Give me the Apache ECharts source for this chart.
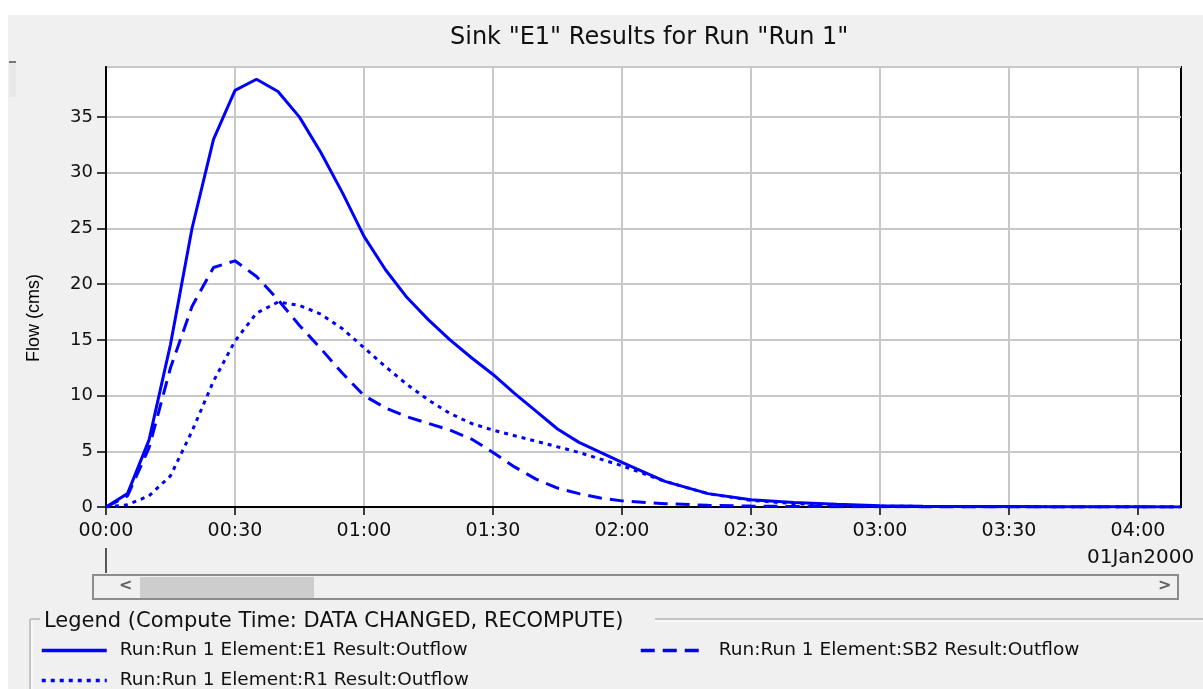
<!DOCTYPE html>
<html>
<head>
<meta charset="utf-8">
<script src="https://cdn.jsdelivr.net/npm/echarts@6/dist/echarts.min.js"></script>
<style>
html,body{margin:0;padding:0;background:#fff;}
#chart{width:1203px;height:689px;}
</style>
</head>
<body>
<div id="chart"></div>
<script>
// minutes from 00:00 on 01Jan2000
const timesMin = [0,5,10,15,20,25,30,35,40,45,50,55,60,65,70,75,80,85,90,95,100,105,110,115,120,130,140,150,160,170,180,190,200,210,220,230,240,250];
const e1Outflow = [0,1.2,6.0,14.6,25.0,33.0,37.4,38.4,37.3,35.0,31.8,28.2,24.3,21.3,18.8,16.8,15.0,13.4,11.9,10.2,8.6,7.0,5.8,4.9,4.0,2.3,1.2,0.65,0.4,0.25,0.12,0.07,0.05,0.04,0.03,0.02,0.02,0.01];
const sb2Outflow = [0,1.0,5.3,12.5,18.0,21.5,22.1,20.7,18.6,16.3,14.2,12.0,10.0,8.9,8.1,7.5,6.9,6.1,4.9,3.6,2.5,1.7,1.2,0.8,0.55,0.3,0.15,0.08,0.05,0.03,0.02,0.01,0.01,0.01,0.01,0.0,0.0,0.0];
const r1Outflow = [0,0.2,1.0,2.8,6.8,11.3,14.9,17.4,18.4,18.1,17.3,16.0,14.3,12.6,11.0,9.6,8.4,7.5,6.9,6.4,5.9,5.4,4.9,4.3,3.7,2.3,1.2,0.6,0.3,0.15,0.08,0.05,0.03,0.02,0.01,0.01,0.01,0.01];
const xTickMinutes = [0,30,60,90,120,150,180,210,240];
const seriesNames = ['Run:Run 1 Element:E1 Result:Outflow','Run:Run 1 Element:SB2 Result:Outflow','Run:Run 1 Element:R1 Result:Outflow'];
const titleText = 'Sink "E1" Results for Run "Run 1"';
const yAxisTitle = 'Flow (cms)';
const dateText = '01Jan2000';
const legendTitle = 'Legend (Compute Time: DATA CHANGED, RECOMPUTE)';

const FONT = 'DejaVu Sans';
const BLUE = '#0000ff';
const LW = 3;
function pairs(vals){ return timesMin.map((t,i)=>[t, vals[i]]); }
function hhmm(v){ const h=Math.floor(v/60), m=v%60; return String(h).padStart(2,'0')+':'+String(m).padStart(2,'0'); }

const chart = echarts.init(document.getElementById('chart'), null, {renderer:'canvas'});
const legendText = {fontFamily: FONT, fontSize: 18.5, color: '#111', padding: [0, 0, 0, 8]};
const legendCommon = {itemWidth: 65, itemHeight: 14, itemGap: 12, textStyle: legendText, orient: 'horizontal', padding: 0, itemStyle: {opacity: 0}, lineStyle: {width: 3.5}};
chart.setOption({
  backgroundColor: '#f0f0f0',
  animation: false,
  title: {
    text: titleText, left: 445, top: 21,
    textStyle: {fontFamily: FONT, fontSize: 24, fontWeight: 'normal', color: '#111'}
  },
  grid: {left: 106, top: 67, right: 22, bottom: 182, show: true, backgroundColor: '#fff', borderColor: '#000', borderWidth: 2, containLabel: false},
  xAxis: {
    type: 'value', min: 0, max: 250, interval: 30,
    axisLine: {show: true, lineStyle: {color: '#000', width: 2}},
    axisTick: {show: true, length: 8, customValues: xTickMinutes, lineStyle: {color: '#000', width: 1.5}},
    axisLabel: {customValues: xTickMinutes, formatter: v => hhmm(v), fontFamily: FONT, fontSize: 19, color: '#111', margin: 15},
    splitLine: {show: true, lineStyle: {color: '#c8c8c8', width: 2}}
  },
  yAxis: {
    type: 'value', min: 0, max: 39.5, interval: 5,
    axisLine: {show: true, lineStyle: {color: '#000', width: 2}},
    axisTick: {show: true, length: 9, lineStyle: {color: '#000', width: 1.5}},
    axisLabel: {showMaxLabel: false, fontFamily: FONT, fontSize: 18, color: '#111', margin: 13},
    splitLine: {show: true, lineStyle: {color: '#c8c8c8', width: 2}}
  },
  legend: [
    Object.assign({data: [seriesNames[0]], left: 40, top: 641}, legendCommon),
    Object.assign({data: [seriesNames[1]], left: 639, top: 641}, legendCommon),
    Object.assign({data: [seriesNames[2]], left: 40, top: 671}, legendCommon)
  ],
  series: [
    {name: seriesNames[0], type: 'line', data: pairs(e1Outflow), showSymbol: false, symbol: 'none', lineStyle: {color: BLUE, width: LW, type: 'solid'}, itemStyle: {color: BLUE}, z: 3},
    {name: seriesNames[1], type: 'line', data: pairs(sb2Outflow), showSymbol: false, symbol: 'none', lineStyle: {color: BLUE, width: LW, type: [14, 8]}, itemStyle: {color: BLUE}, z: 3},
    {name: seriesNames[2], type: 'line', data: pairs(r1Outflow), showSymbol: false, symbol: 'none', lineStyle: {color: BLUE, width: LW, type: [4, 5]}, itemStyle: {color: BLUE}, z: 3}
  ],
  graphic: [
    {type: 'rect', shape: {x: 0, y: 0, width: 1203, height: 15}, style: {fill: '#fff'}, silent: true},
    {type: 'rect', shape: {x: 0, y: 0, width: 8, height: 689}, style: {fill: '#fff'}, silent: true},
    {type: 'rect', shape: {x: 9, y: 63, width: 7, height: 34}, style: {fill: '#e8e8e8'}, silent: true},
    {type: 'line', shape: {x1: 9, y1: 62, x2: 16, y2: 62}, style: {stroke: '#777', lineWidth: 2}, silent: true},
    {type: 'text', x: 34, y: 318, rotation: Math.PI / 2, style: {text: yAxisTitle, font: '18px "Liberation Sans"', fill: '#000', align: 'center', verticalAlign: 'middle'}},
    {type: 'text', left: 1087, top: 548, style: {text: dateText, font: '20px "DejaVu Sans"', fill: '#111'}},
    {type: 'line', shape: {x1: 106, y1: 548, x2: 106, y2: 573}, style: {stroke: '#222', lineWidth: 1.5}, silent: true},
    {type: 'rect', shape: {x: 93, y: 575, width: 1085, height: 24}, style: {fill: '#f0f0f0', stroke: '#8c8c8c', lineWidth: 2}, silent: true},
    {type: 'rect', shape: {x: 140, y: 577, width: 174, height: 21}, style: {fill: '#cdcdcd'}, silent: true},
    {type: 'text', left: 119, top: 578, style: {text: '<', font: 'bold 16px "DejaVu Sans"', fill: '#606060'}},
    {type: 'text', left: 1158, top: 578, style: {text: '>', font: 'bold 16px "DejaVu Sans"', fill: '#606060'}},
    {type: 'line', shape: {x1: 30, y1: 619, x2: 40, y2: 619}, style: {stroke: '#c4c4c4', lineWidth: 2}, silent: true},
    {type: 'line', shape: {x1: 655, y1: 619, x2: 1203, y2: 619}, style: {stroke: '#c4c4c4', lineWidth: 2}, silent: true},
    {type: 'line', shape: {x1: 655, y1: 621, x2: 1203, y2: 621}, style: {stroke: '#ffffff', lineWidth: 1}, silent: true},
    {type: 'line', shape: {x1: 30, y1: 619, x2: 30, y2: 689}, style: {stroke: '#c4c4c4', lineWidth: 2}, silent: true},
    {type: 'line', shape: {x1: 32, y1: 621, x2: 32, y2: 689}, style: {stroke: '#ffffff', lineWidth: 1}, silent: true},
    {type: 'text', left: 44, top: 611, style: {text: legendTitle, font: '21px "DejaVu Sans"', fill: '#111'}}
  ]
});
</script>
</body>
</html>
